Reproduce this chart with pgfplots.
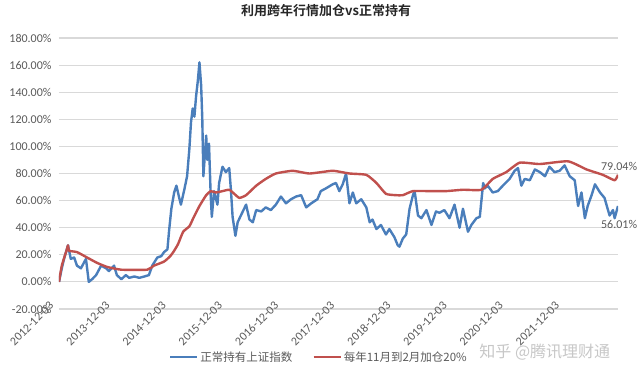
\documentclass[border=0pt]{standalone}
\usepackage{pgfplots}
\pgfplotsset{compat=1.18}
\usepackage{fontspec}
\setmainfont{Carlito}
\newfontfamily\cjk{Noto Sans CJK SC}
\newfontfamily\cjkb{Noto Sans CJK SC Bold}
\definecolor{sblue}{RGB}{74,126,187}
\definecolor{sred}{RGB}{192,80,77}
\definecolor{tgray}{RGB}{89,89,89}
\definecolor{ggray}{RGB}{217,217,217}
\begin{document}
\begin{tikzpicture}
\begin{axis}[
  at={(0pt,0pt)}, anchor=south west,
  scale only axis, width=559pt, height=271pt,
  xmin=0, xmax=9.95, ymin=-20, ymax=180,
  axis line style={draw=none},
  major tick length=0pt,
  ymajorgrids, grid style={ggray, line width=1.1pt},
  ytick={-20,0,20,40,60,80,100,120,140,160,180},
  yticklabels={-20.00\%,0.00\%,20.00\%,40.00\%,60.00\%,80.00\%,100.00\%,120.00\%,140.00\%,160.00\%,180.00\%},
  yticklabel style={font=\fontsize{12}{14}\selectfont, text=tgray, xshift=-4pt},
  xtick={0,1,2,3,4,5,6,7,8,9},
  xticklabels={2012-12-03,2013-12-03,2014-12-03,2015-12-03,2016-12-03,2017-12-03,2018-12-03,2019-12-03,2020-12-03,2021-12-03},
  xticklabel style={font=\fontsize{12}{14}\selectfont, text=tgray, rotate=45, anchor=east, yshift=9pt, xshift=2pt},
  title={\cjkb\fontsize{13}{15}\selectfont 利用跨年行情加仓vs正常持有},
  title style={at={(0.478,1.078)}, anchor=center, text=black!85},
  legend style={at={(0.465,-0.177)}, anchor=center, draw=none, fill=none, legend columns=2,
    font=\cjk\fontsize{11.5}{13}\selectfont, text=tgray,
    /tikz/every even column/.append style={column sep=18pt}},
  legend image code/.code={\draw[#1] (0pt,0pt) -- (27pt,0pt);},
  clip mode=individual,
]
\addplot[sblue, line width=2.4pt, line join=round] coordinates {
(0,0) (0.05,10) (0.09,17) (0.16,27) (0.21,17) (0.27,18) (0.32,12) (0.39,10) (0.48,17)
(0.53,0) (0.59,2) (0.66,5) (0.75,12) (0.84,10) (0.89,8) (0.98,12) (1.03,5) (1.11,2)
(1.19,5) (1.25,3) (1.34,4) (1.43,3) (1.52,4) (1.60,5) (1.66,12) (1.75,18) (1.82,19)
(1.87,22) (1.93,24) (1.96,38) (2.00,54) (2.05,66) (2.09,71) (2.14,62) (2.17,57)
(2.23,68) (2.28,78) (2.32,98) (2.35,118) (2.38,128) (2.41,122) (2.44,137) (2.47,148)
(2.50,162) (2.53,145) (2.55,121) (2.57,78) (2.62,108) (2.64,90) (2.67,102) (2.70,64)
(2.72,48) (2.76,67) (2.82,57) (2.85,73) (2.91,85) (2.97,81) (3.03,84) (3.06,68)
(3.09,48) (3.14,34) (3.18,44) (3.26,51) (3.33,57) (3.39,46) (3.45,44) (3.51,53)
(3.60,52) (3.68,55) (3.77,53) (3.86,57) (3.95,63) (4.04,58) (4.13,61) (4.22,63)
(4.31,64) (4.40,55) (4.49,58) (4.60,61) (4.66,67) (4.75,69) (4.87,72) (4.93,73)
(4.99,67) (5.05,72) (5.11,80) (5.17,58) (5.23,66) (5.29,58) (5.38,61) (5.47,55)
(5.53,44) (5.58,46) (5.65,39) (5.73,42) (5.82,35) (5.88,39) (5.97,33) (6.03,27)
(6.06,26) (6.12,32) (6.18,35) (6.24,54) (6.30,64) (6.33,67) (6.39,49) (6.45,47)
(6.54,53) (6.63,42) (6.71,52) (6.77,51) (6.86,53) (6.95,47) (7.04,57) (7.13,40)
(7.19,54) (7.28,37) (7.34,42) (7.43,47) (7.49,48) (7.55,73) (7.58,69) (7.63,71)
(7.72,66) (7.81,67) (7.90,71) (8.02,76) (8.11,82) (8.17,84) (8.23,71) (8.29,76)
(8.38,75) (8.47,83) (8.56,81) (8.65,78) (8.73,85) (8.82,81) (8.91,82) (9.00,86)
(9.09,78) (9.18,75) (9.24,56) (9.30,66) (9.36,47) (9.41,56) (9.48,64) (9.54,72)
(9.63,66) (9.71,62) (9.80,49) (9.86,53) (9.89,47) (9.95,56.01)
};
\addlegendentry{正常持有上证指数}
\addplot[sred, line width=2.4pt, line join=round, smooth, tension=0.3] coordinates {
(0,0) (0.05,12) (0.14,24) (0.16,27) (0.18,23) (0.32,22) (0.50,18) (0.68,14) (0.86,11)
(1.11,9) (1.57,9) (1.69,12) (1.87,15) (1.98,19) (2.05,23) (2.12,28) (2.21,37) (2.32,41)
(2.39,47) (2.50,56) (2.62,64) (2.70,67) (2.79,66) (2.91,67) (3.03,68) (3.12,65)
(3.21,62) (3.33,64) (3.51,71) (3.68,76) (3.86,80) (4.16,82) (4.46,80) (4.87,82)
(5.17,80) (5.47,79) (5.65,73) (5.82,65) (6.00,64) (6.12,64) (6.30,67) (6.60,67)
(6.89,67) (7.19,68) (7.52,68) (7.72,76) (7.96,81) (8.20,88) (8.56,87) (9.06,89)
(9.39,83) (9.68,79) (9.89,75) (9.95,79.04)
};
\addlegendentry{每年11月到2月加仓20\%}
\node[anchor=south, font=\fontsize{12}{14}\selectfont, text=tgray, inner sep=1pt] at (axis cs:9.97,81) {79.04\%};
\node[anchor=north, font=\fontsize{12}{14}\selectfont, text=tgray, inner sep=1pt] at (axis cs:9.97,46) {56.01\%};
\node[font=\cjk\fontsize{16}{18}\selectfont, text=black!22] at (axis description cs:0.869,-0.159) {知乎 @腾讯理财通};
\end{axis}
\pgfresetboundingbox
\path (-59pt,-69pt) rectangle (582pt,309pt);
\end{tikzpicture}
\end{document}
